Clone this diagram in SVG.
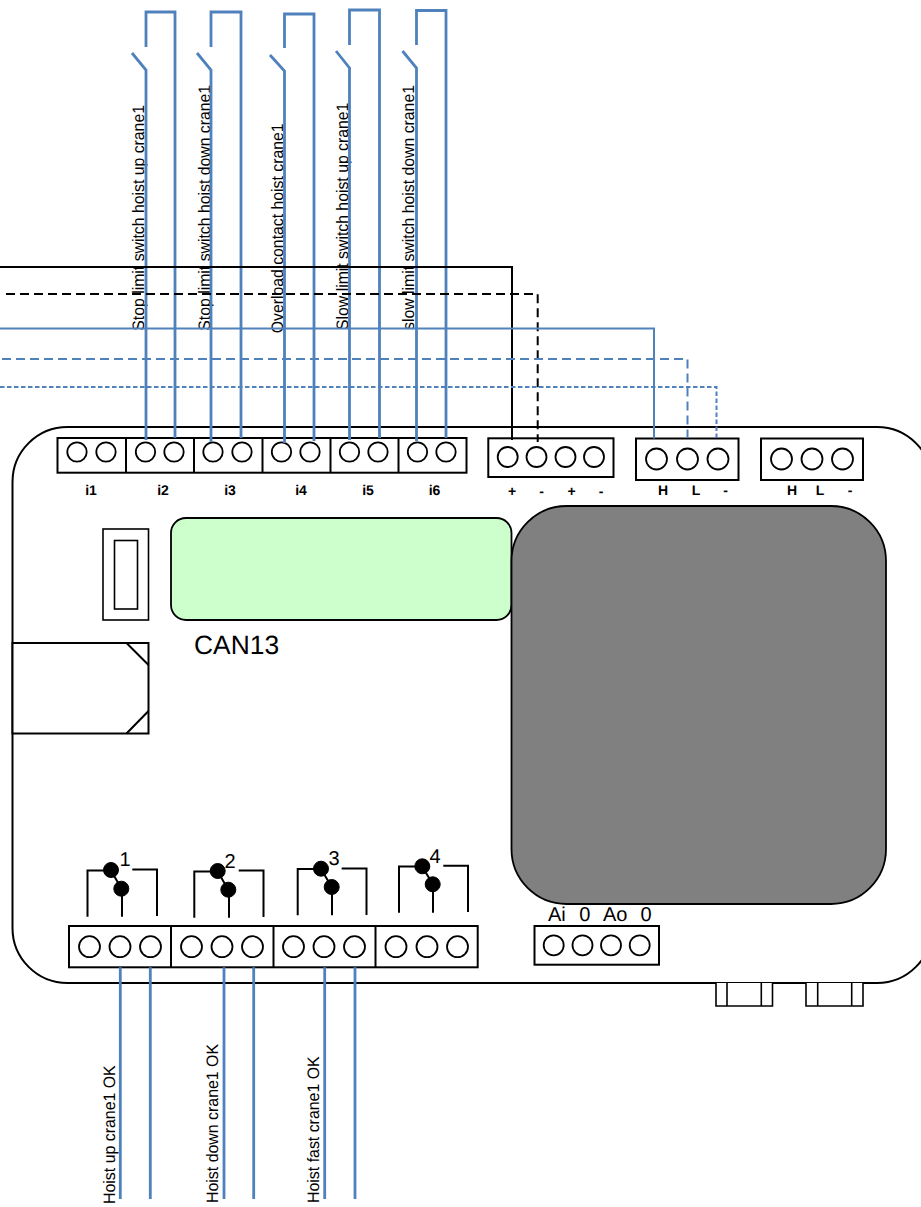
<svg xmlns="http://www.w3.org/2000/svg" width="921" height="1207" viewBox="0 0 921 1207">
<style>
.k{fill:none;stroke:#000;stroke-width:2}
.w{fill:#fff;stroke:#000;stroke-width:2}
.s{fill:#fff;stroke:#000;stroke-width:1.6}
.c{fill:#fff;stroke:#000;stroke-width:1.8}
.d{fill:#000;stroke:#000;stroke-width:1}
.b{fill:none;stroke:#4F81BD;stroke-width:2.8}
.t{fill:none;stroke:#4F81BD;stroke-width:2}
.da{stroke-dasharray:9 5}
.do{stroke-dasharray:4.5 2.5}
text{font-family:"Liberation Sans",Arial,sans-serif;fill:#000;text-rendering:geometricPrecision}
.l{font-size:14px;font-weight:bold;text-anchor:middle}
.h{font-size:14px;font-weight:bold;text-anchor:middle}
.r{font-size:16.6px}
.n{font-size:20px;text-anchor:middle}
.a{font-size:20px}
</style>
<rect width="921" height="1207" fill="#fff"/>
<g id="housing">
<rect class="w" x="12.5" y="427" width="919.5" height="556" rx="55" ry="55"/>
<path class="s" d="M716 983V1006H772.5V983M727 983V1006M761.3 983V1006"/>
<path class="s" d="M806 983V1006H863V983M817.7 983V1006M851.7 983V1006"/>
</g>
<g id="display">
<rect x="171" y="518" width="340.5" height="102" rx="15" ry="15" fill="#CCFFCC" stroke="#000" stroke-width="1.8"/>
<text x="194" y="654" style="font-size:26.4px">CAN13</text>
</g>
<g id="module">
<rect x="511.5" y="506" width="374.5" height="398" rx="55" ry="55" fill="#808080" stroke="#000" stroke-width="1.8"/>
</g>
<g id="slot">
<rect class="s" x="103" y="529" width="45.5" height="91"/>
<rect class="s" x="114.5" y="540.5" width="23" height="68.5"/>
</g>
<g id="port">
<rect class="w" x="12.5" y="643" width="136" height="90.5"/>
<path class="k" d="M126.5 643L148.5 665M126.5 733.5L148.5 711"/>
</g>
<g id="inputs">
<rect class="w" x="57.5" y="438" width="409" height="34.7"/>
<path class="k" d="M126 438V472.7M194 438V472.7M262.5 438V472.7M330.5 438V472.7M398.5 438V472.7"/>
<circle class="c" cx="77" cy="452" r="9.7"/><circle class="c" cx="106" cy="452" r="9.7"/>
<circle class="c" cx="145.5" cy="452" r="9.7"/><circle class="c" cx="174" cy="452" r="9.7"/>
<circle class="c" cx="213" cy="452" r="9.7"/><circle class="c" cx="242" cy="452" r="9.7"/>
<circle class="c" cx="281.5" cy="452" r="9.7"/><circle class="c" cx="310" cy="452" r="9.7"/>
<circle class="c" cx="349.5" cy="452" r="9.7"/><circle class="c" cx="378" cy="452" r="9.7"/>
<circle class="c" cx="417.5" cy="452" r="9.7"/><circle class="c" cx="446" cy="452" r="9.7"/>
<text class="l" x="91" y="495">i1</text><text class="l" x="163" y="495">i2</text><text class="l" x="230" y="495">i3</text><text class="l" x="301" y="495">i4</text><text class="l" x="368" y="495">i5</text><text class="l" x="434.5" y="495">i6</text>
</g>
<g id="power">
<rect class="w" x="488.3" y="438.3" width="125.2" height="38.7"/>
<circle class="c" cx="507.7" cy="457" r="10"/><circle class="c" cx="536.5" cy="457" r="10"/><circle class="c" cx="565.5" cy="457" r="10"/><circle class="c" cx="594" cy="457" r="10"/>
<text class="h" x="512" y="496">+</text><text class="h" x="541.5" y="496">-</text><text class="h" x="571.5" y="496">+</text><text class="h" x="601" y="496">-</text>
</g>
<g id="can1">
<rect class="w" x="636" y="438.5" width="102.5" height="41.5"/>
<circle class="c" cx="656.5" cy="459" r="10.5"/><circle class="c" cx="687.5" cy="459" r="10.5"/><circle class="c" cx="718" cy="459" r="10.5"/>
<text class="h" x="663" y="495">H</text><text class="h" x="696" y="495">L</text><text class="h" x="725.5" y="495">-</text>
</g>
<g id="can2">
<rect class="w" x="761" y="438.5" width="102" height="41.5"/>
<circle class="c" cx="781.5" cy="459" r="10.5"/><circle class="c" cx="812" cy="459" r="10.5"/><circle class="c" cx="842.5" cy="459" r="10.5"/>
<text class="h" x="792" y="495">H</text><text class="h" x="820" y="495">L</text><text class="h" x="850" y="495">-</text>
</g>
<g id="relays">
<rect class="w" x="69" y="926" width="408.7" height="41.3"/>
<path class="k" d="M171 926V967.3M273.5 926V967.3M375.5 926V967.3"/>
<circle class="c" cx="89.5" cy="946.7" r="10.5"/><circle class="c" cx="120" cy="946.7" r="10.5"/><circle class="c" cx="150.5" cy="946.7" r="10.5"/>
<circle class="c" cx="191.5" cy="946.7" r="10.5"/><circle class="c" cx="222" cy="946.7" r="10.5"/><circle class="c" cx="252.5" cy="946.7" r="10.5"/>
<circle class="c" cx="293.5" cy="946.7" r="10.5"/><circle class="c" cx="324" cy="946.7" r="10.5"/><circle class="c" cx="354.5" cy="946.7" r="10.5"/>
<circle class="c" cx="396" cy="946.7" r="10.5"/><circle class="c" cx="427" cy="946.7" r="10.5"/><circle class="c" cx="457.5" cy="946.7" r="10.5"/>
</g>
<g id="relay1">
<path class="k" d="M87.5 916.7V870.5H111L121.5 888.7M122 888.7V916.7M132.3 869.5H157V916"/>
<circle class="d" cx="111" cy="870" r="7.5"/><circle class="d" cx="121.3" cy="888.7" r="7.5"/>
<text class="n" x="125" y="866">1</text>
</g>
<g id="relay2">
<path class="k" d="M194.3 917.7V871.5H217.7L228.3 889.7M229 889.7V917.7M238.7 870.5H263.5V917"/>
<circle class="d" cx="217.7" cy="871" r="7.5"/><circle class="d" cx="228.3" cy="889.7" r="7.5"/>
<text class="n" x="230" y="868">2</text>
</g>
<g id="relay3">
<path class="k" d="M297.7 915.3V869H321L331.7 887M332 887V915.3M341.7 868.5H366.5V915"/>
<circle class="d" cx="321" cy="868.7" r="7.5"/><circle class="d" cx="331.7" cy="887" r="7.5"/>
<text class="n" x="334" y="865">3</text>
</g>
<g id="relay4">
<path class="k" d="M399 912.7V866.5H422.3L432.7 884.3M433 884.3V912.7M443.3 865.7H468V912"/>
<circle class="d" cx="422.3" cy="866.3" r="7.5"/><circle class="d" cx="432.7" cy="884.3" r="7.5"/>
<text class="n" x="435" y="863">4</text>
</g>
<g id="analog">
<rect class="w" x="534.5" y="926" width="124.5" height="38.7"/>
<circle class="c" cx="553.7" cy="945.3" r="10"/><circle class="c" cx="582.5" cy="945.3" r="10"/><circle class="c" cx="611" cy="945.3" r="10"/><circle class="c" cx="639.7" cy="945.3" r="10"/>
<text class="a" x="548" y="921">Ai</text><text class="a" x="584.7" y="921" text-anchor="middle">0</text><text class="a" x="603" y="921">Ao</text><text class="a" x="646" y="921" text-anchor="middle">0</text>
</g>
<g id="labels">
<text class="r" transform="translate(144 330.7) rotate(-90) scale(.952 1)">Stop limit switch hoist up crane1</text>
<text class="r" transform="translate(209.5 330.7) rotate(-90) scale(.952 1)">Stop limit switch hoist down crane1</text>
<text class="r" transform="translate(282.5 333.3) rotate(-90) scale(.952 1)">Overload contact hoist crane1</text>
<text class="r" transform="translate(348.3 330) rotate(-90) scale(.952 1)">Slow limit switch hoist up crane1</text>
<text class="r" transform="translate(414.3 330) rotate(-90) scale(.952 1)">slow limit switch hoist down crane1</text>
<text class="r" transform="translate(115 1204) rotate(-90) scale(.958 1)">Hoist up crane1 OK</text>
<text class="r" transform="translate(217.7 1203) rotate(-90) scale(.958 1)">Hoist down crane1 OK</text>
<text class="r" transform="translate(319.3 1203) rotate(-90) scale(.958 1)">Hoist fast crane1 OK</text>
</g>
<g id="connectors">
<path class="b" d="M146 47V12H175V438M146 440V70L132 53"/>
<path class="b" d="M211 47V12H241V438M211 442V70L197 53"/>
<path class="b" d="M284.5 48V14H314V441M284.5 443V71L270 55"/>
<path class="b" d="M349.5 45V10H379.5V438M349.5 440V68L336 51"/>
<path class="b" d="M416.5 45V10.5H446V438M416.5 441V68L402.5 51"/>
<path class="k" d="M0 267H512V440"/>
<path class="k da" d="M6 294H537.7V442"/>
<path class="t" d="M0 328.5H654V438.5"/>
<path class="t da" d="M2 359H687.5V438"/>
<path class="t do" d="M0 387H716.5V438"/>
<path class="b" d="M120.3 967.3V1199M150.3 967.3V1199M224 967.3V1199M253.7 967.3V1199M324.7 967.3V1199M355 967.3V1199"/>
</g>
</svg>
